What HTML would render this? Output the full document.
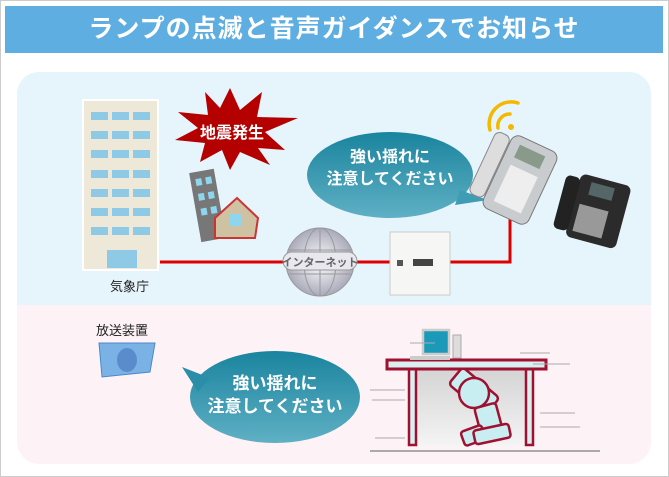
<!DOCTYPE html>
<html><head><meta charset="utf-8"><style>
body{margin:0;width:669px;height:477px;overflow:hidden;background:#fff;font-family:"Liberation Sans","Noto Sans CJK JP",sans-serif}
.frame{position:absolute;left:0;top:0;width:667px;height:475px;border:1px solid #ccc}
.t{position:absolute;left:5px;top:6px;width:658px;height:47px;background:#5eaee2;color:#fff;font-size:25px;font-weight:bold;text-align:center;line-height:47px;letter-spacing:1px}
.panel{position:absolute;left:17px;top:72px;width:634px;height:392px;border-radius:22px;overflow:hidden;background:#fdf3f6}
.top{position:absolute;left:0;top:0;width:634px;height:233px;background:#e6f4fc}
.lbl{position:absolute;font-size:13px;color:#222}
</style></head><body>
<div class="frame"></div>
<div class="t">ランプの点滅と音声ガイダンスでお知らせ</div>
<div class="panel"><div class="top"></div></div>
<svg width="669" height="477" style="position:absolute;left:0;top:0">
<defs>
<linearGradient id="bg" x1="0" y1="0" x2="0" y2="1"><stop offset="0" stop-color="#1a849e"/><stop offset="1" stop-color="#5fb0c4"/></linearGradient>
<radialGradient id="gl"><stop offset="0" stop-color="#fff"/><stop offset="1" stop-color="#aab"/></radialGradient>
<linearGradient id="fl" x1="0" y1="0" x2="0" y2="1"><stop offset="0" stop-color="#d4d4d4"/><stop offset="1" stop-color="#f4f4f4"/></linearGradient>
</defs>
<polyline points="160,262 510,262 510,215" fill="none" stroke="#d00" stroke-width="3"/>
<rect x="83" y="100" width="75" height="170" fill="#ede8d8" stroke="#fff" stroke-width="2"/>
<g fill="#8ec9e6">
<rect x="91" y="112" width="17" height="8"/><rect x="112" y="112" width="17" height="8"/><rect x="133" y="112" width="17" height="8"/>
<rect x="91" y="131" width="17" height="8"/><rect x="112" y="131" width="17" height="8"/><rect x="133" y="131" width="17" height="8"/>
<rect x="91" y="150" width="17" height="8"/><rect x="112" y="150" width="17" height="8"/><rect x="133" y="150" width="17" height="8"/>
<rect x="91" y="170" width="17" height="8"/><rect x="112" y="170" width="17" height="8"/><rect x="133" y="170" width="17" height="8"/>
<rect x="91" y="189" width="17" height="8"/><rect x="112" y="189" width="17" height="8"/><rect x="133" y="189" width="17" height="8"/>
<rect x="91" y="208" width="17" height="8"/><rect x="112" y="208" width="17" height="8"/><rect x="133" y="208" width="17" height="8"/>
<rect x="91" y="227" width="17" height="8"/><rect x="112" y="227" width="17" height="8"/><rect x="133" y="227" width="17" height="8"/>
<rect x="107" y="250" width="30" height="18"/></g>
<polygon fill="#b50000" points="230,88 240,110 262,92 257,117 298,118 265,132 285,150 258,148 270,165 240,152 230,170 222,150 200,162 205,143 175,140 198,128 178,112 208,115 205,92 220,108" />
<text x="232" y="138" fill="#fff" font-size="16" font-weight="bold" text-anchor="middle">地震発生</text>
<g transform="rotate(-10 210 205)"><rect x="195" y="170" width="25" height="70" fill="#777"/>
<g fill="#8ed6f0"><rect x="200" y="177" width="6" height="7"/><rect x="210" y="177" width="6" height="7"/><rect x="200" y="192" width="6" height="7"/><rect x="210" y="192" width="6" height="7"/><rect x="200" y="207" width="6" height="7"/><rect x="210" y="207" width="6" height="7"/></g></g>
<polygon points="215,218 237,198 258,218 255,238 215,238" fill="#cfc2a3" stroke="#c33" stroke-width="2"/>
<rect x="230" y="214" width="12" height="12" fill="#8ed6f0"/>
<ellipse cx="390" cy="175" rx="83" ry="43" fill="url(#bg)"/>
<polygon points="460,190 488,200 455,205" fill="#3e9db4"/>
<text x="390" y="162" fill="#fff" font-size="16" font-weight="bold" text-anchor="middle">強い揺れに</text>
<text x="390" y="184" fill="#fff" font-size="16" font-weight="bold" text-anchor="middle">注意してください</text>
<g fill="none" stroke="#f5b800" stroke-width="3.5" stroke-linecap="round">
<path d="M498,128 A12,12 0 0 1 510,114"/><path d="M490,130 A22,22 0 0 1 518,103"/></g>
<circle cx="511" cy="127" r="3" fill="#f5b800"/>
<g transform="rotate(25 520 180)"><rect x="495" y="140" width="50" height="80" rx="8" fill="#c9cccf" stroke="#777"/>
<rect x="505" y="148" width="28" height="14" fill="#8a9a8a"/><rect x="478" y="145" width="16" height="68" rx="6" fill="#ddd" stroke="#888"/>
<g fill="#eee"><rect x="505" y="170" width="30" height="40"/></g></g>
<g transform="rotate(15 595 212)"><rect x="572" y="178" width="52" height="65" rx="6" fill="#2b2b2b"/>
<rect x="584" y="184" width="24" height="13" fill="#566"/><rect x="558" y="183" width="15" height="55" rx="5" fill="#222"/>
<rect x="578" y="208" width="30" height="28" fill="#999"/></g>
<circle cx="320" cy="262" r="34" fill="url(#gl)" stroke="#999"/>
<g stroke="#999" fill="none"><ellipse cx="320" cy="262" rx="16" ry="34"/><line x1="320" y1="228" x2="320" y2="296"/><line x1="288" y1="250" x2="352" y2="250"/><line x1="288" y1="274" x2="352" y2="274"/></g>
<rect x="283" y="252" width="74" height="18" rx="9" fill="#e8e8ee" stroke="#999"/>
<text x="320" y="266" font-size="11" font-weight="bold" fill="#666" text-anchor="middle">インターネット</text>
<rect x="390" y="232" width="60" height="63" fill="#f6f6f4" stroke="#ccc"/>
<rect x="397" y="260" width="6" height="6" fill="#555"/><rect x="413" y="259" width="20" height="7" fill="#444"/>
<polygon points="99,343 155,343 150,372 102,377" fill="#7ab2e6" stroke="#4a88c8"/>
<ellipse cx="127" cy="360" rx="10" ry="12" fill="#5a8ccc"/>
<ellipse cx="275" cy="397" rx="85" ry="46" fill="url(#bg)"/>
<polygon points="182,367 210,378 198,392" fill="#2a8ea8"/>
<text x="275" y="389" fill="#fff" font-size="17" font-weight="bold" text-anchor="middle">強い揺れに</text>
<text x="275" y="412" fill="#fff" font-size="17" font-weight="bold" text-anchor="middle">注意してください</text>
<!-- desk -->
<rect x="415" y="369" width="112" height="77" fill="url(#fl)"/>
<rect x="409" y="369" width="7" height="76" fill="#d8f0f0" stroke="#a01030" stroke-width="2.5"/>
<rect x="526" y="369" width="7" height="76" fill="#d8f0f0" stroke="#a01030" stroke-width="2.5"/>
<rect x="387" y="360" width="159" height="9" fill="#d8f0f0" stroke="#a01030" stroke-width="3"/>
<rect x="423" y="330" width="26" height="24" fill="#1a9ab8" stroke="#ccc" stroke-width="2.5"/>
<rect x="453" y="335" width="8" height="23" fill="#ddd" stroke="#aaa"/>
<rect x="410" y="356" width="40" height="4" fill="#ccc"/>
<g fill="#c8eef2" stroke="#a01030" stroke-width="2.5">
<rect x="450" y="380" width="48" height="22" rx="4" transform="rotate(40 474 391)"/>
<circle cx="474" cy="393" r="15"/>
<rect x="478" y="405" width="22" height="32" rx="3" transform="rotate(-15 489 421)"/>
<rect x="462" y="428" width="22" height="15" rx="3" transform="rotate(-20 473 435)"/>
<rect x="474" y="427" width="36" height="14" rx="3" transform="rotate(-12 492 434)"/>
</g>
<line x1="370" y1="451" x2="600" y2="451" stroke="#aaa" stroke-width="2"/>
<g stroke="#aaa"><line x1="370" y1="390" x2="405" y2="390"/><line x1="372" y1="400" x2="405" y2="400"/><line x1="375" y1="438" x2="405" y2="438"/><line x1="540" y1="413" x2="575" y2="413"/><line x1="540" y1="427" x2="580" y2="427"/><line x1="520" y1="353" x2="550" y2="353"/><line x1="533" y1="364" x2="570" y2="364"/><line x1="410" y1="343" x2="435" y2="343"/></g>
</svg>
<div class="lbl" style="left:110px;top:276px">気象庁</div>
<div class="lbl" style="left:96px;top:320px">放送装置</div>
</body></html>
